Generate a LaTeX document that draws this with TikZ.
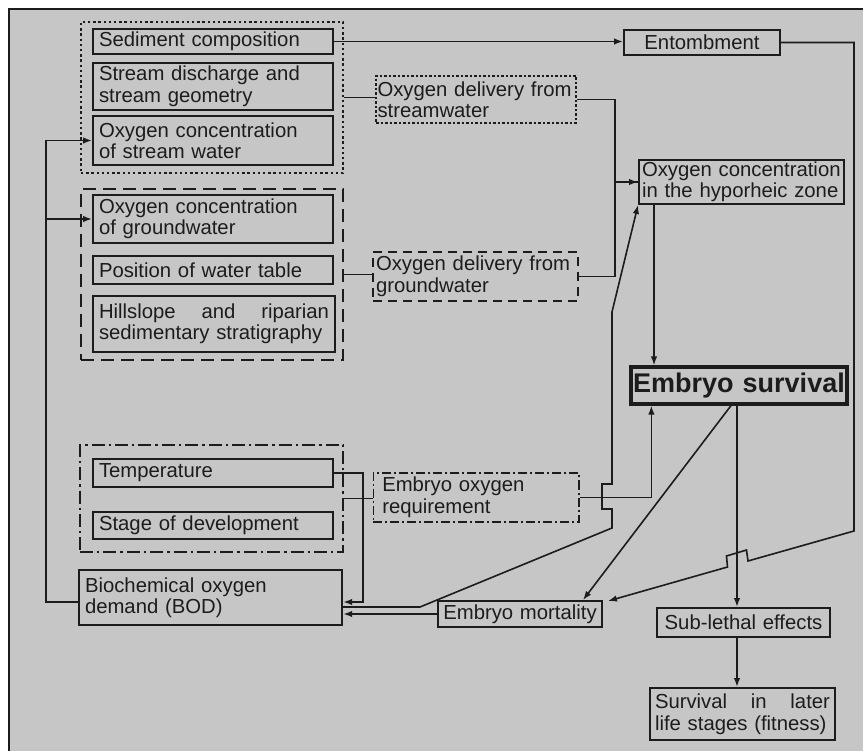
\documentclass[tikz,border=0pt]{standalone}
\usepackage{fontspec}
\setmainfont{Liberation Sans}
\usetikzlibrary{arrows.meta}
\definecolor{bg}{RGB}{198,198,198}
\definecolor{ink}{RGB}{28,28,28}

\begin{document}
\begin{tikzpicture}[x=1pt,y=-1pt,line width=1.6pt,color=ink,
        >={Latex[length=9pt,width=6.5pt]},
        bx/.style={draw, line width=1.9pt, text=ink, inner xsep=6pt,
                        inner ysep=0pt, align=left,
                        font=\fontsize{20.3}{21.5}\selectfont},
        grp/.style={draw, line width=2.4pt, inner sep=0pt},
        gdot/.style={grp, dash pattern=on 2.4pt off 2.8pt},
        gdash/.style={grp, dash pattern=on 13pt off 7pt},
        gdd/.style={grp, dash pattern=on 13pt off 4pt on 2.4pt off 4pt},
        ddot/.style={line width=1.5pt, dash pattern=on 2.5pt off 2pt},
        ddash/.style={line width=1.7pt, dash pattern=on 9pt off 6pt},
        ddd/.style={line width=1.5pt, dash pattern=on 9pt off 3pt on 2pt off 3pt}]
    \useasboundingbox (0,0) rectangle (863,751);
    \fill[white] (0,0) rectangle (863,751);
    \fill[bg] (9,9) rectangle (863,751);
    \draw[line width=2pt] (9,751) -- (9,9) -- (863,9);

    % stream water
    \node[gdot, minimum width=262pt, minimum height=151pt] (g1) at (212,97.5) {};
    \node[bx, text width=228pt, minimum height=25pt] (sed) at (213,41.5) {Sediment composition};
    \node[bx, text width=228pt, minimum height=47pt] (dis) at (213,86.5) {Stream discharge and\\stream geometry};
    \node[bx, text width=228pt, minimum height=49pt] (osw) at (213,140.5) {Oxygen concentration\\of stream water};

    % groundwater
    \node[gdash, minimum width=262pt, minimum height=171pt] (g2) at (212,274.5) {};
    \node[bx, text width=228pt, minimum height=48pt] (ogw) at (213,219) {Oxygen concentration\\of groundwater};
    \node[bx, text width=228pt, minimum height=28pt] (wt) at (213,270) {Position of water table};
    \node[bx, text width=230pt, minimum height=56pt] (hill) at (214,324) {Hillslope\hfill and\hfill riparian\\sedimentary stratigraphy};

    % embryo
    \node[gdd, minimum width=263pt, minimum height=107pt] (g3) at (211.5,498.5) {};
    \node[bx, text width=228pt, minimum height=28pt] (tmp) at (213,473) {Temperature};
    \node[bx, text width=228pt, minimum height=27pt] (stg) at (213,525.5) {Stage of development};
    \node[bx, line width=2.4pt, text width=251pt, minimum height=55pt] (bod) at (210.5,597.5) {Biochemical oxygen\\demand (BOD)};

    \node[bx, align=center, text width=144pt, minimum height=25pt] (ent) at (702,42.5) {Entombment};
    \node[bx, ddot, inner xsep=1.5pt, text width=197pt, minimum height=47pt] (dsw) at (476,99.5) {Oxygen delivery from\\streamwater};
    \node[bx, ddash, inner xsep=3pt, text width=199pt, minimum height=49pt] (dgw) at (475.5,276.5) {Oxygen delivery from\\groundwater};
    \node[bx, inner xsep=3pt, text width=199pt, minimum height=44pt] (hyp) at (741.5,182) {Oxygen concentration\\in the hyporheic zone};
    \node[bx, ddd, inner xsep=9pt, text width=187.5pt, minimum height=49pt] (req) at (476,497.5) {Embryo oxygen\\requirement};
    \node[bx, line width=3.2pt, align=center, inner xsep=2pt, text width=212pt, minimum height=37pt,
        font=\fontsize{27}{30}\selectfont\bfseries] (surv) at (739,385.5) {Embryo survival};
    \node[bx, align=center, inner xsep=3pt, text width=158pt, minimum height=26pt] (mort) at (520,614) {Embryo mortality};
    \node[bx, align=center, inner xsep=3pt, text width=167pt, minimum height=29pt] (sub) at (743.5,622.5) {Sub-lethal effects};
    \node[bx, inner xsep=5pt, text width=175pt, minimum height=52pt] (fit) at (742.5,714) {Survival\hfill in\hfill later\\life stages (fitness)};

    % connectors
    \draw[->] (sed.east) -- (sed.east -| ent.west);
    \draw[->] (ent.east) -- ++(73,0) -- ++(0,488.5) -- (748,561) -- ++(-1.5,-11)
        -- ++(-20,6) -- ++(1,11) -- ([xshift=5pt,yshift=-1pt]mort.north east);
    \draw (g1.east) -- (g1.east -| dsw.west);
    \draw (g2.east) -- (g2.east -| dgw.west);
    \draw[->] (dsw.east) -- ++(38,0) |- (hyp.west);
    \draw (dgw.east) -- ++(36,0) |- (hyp.west);
    \draw[->] ([xshift=-87.5pt]hyp.south) -- ([xshift=-87.5pt]hyp.south |- surv.north);
    \draw[->] ([yshift=-9.5pt]bod.east) -- (420,607) -- (612,528) -- (612,509) -- (602,509)
        -- (602,484) -- (612,484) -- (612,312) -- (hyp.south west);
    \draw[->] (tmp.east) -| (363,602) -- ([yshift=-4.5pt]bod.east);
    \draw (g3.east) -- (g3.east -| req.west);
    \draw[->] (req.east) -| ([xshift=22pt]surv.south west);
    \draw[->] ([xshift=-8pt]surv.south) -- ([xshift=63pt]mort.north);
    \draw[->] ([xshift=-2pt]surv.south) -- ([xshift=-2pt]surv.south |- sub.north);
    \draw[->] ([xshift=-6.5pt]sub.south) -- ([xshift=-6.5pt]sub.south |- fit.north);
    \draw[->] (mort.west) -- (mort.west -| bod.east);
    \coordinate (fb) at (46,602);
    \draw[->] ([yshift=-4.5pt]bod.west) -- (fb) |- (osw.west);
    \draw[->] (fb |- ogw.west) -- (ogw.west);
\end{tikzpicture}
\end{document}
